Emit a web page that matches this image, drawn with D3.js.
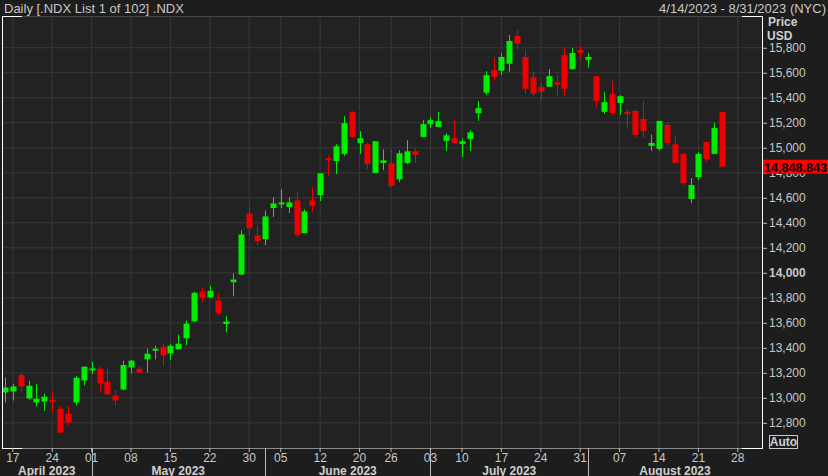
<!DOCTYPE html>
<html>
<head>
<meta charset="utf-8">
<script src="https://cdn.jsdelivr.net/npm/d3@7"></script>
<style>
  body { margin:0; background:#1d1d1d; }
  svg text { font-family:"Liberation Sans Narrow","Liberation Sans",Arial,sans-serif; }
</style>
</head>
<body>
<script>
// trading days shown (Apr 14 .. Aug 31 2023), data up to Aug 24
const holidays = ["2023-05-29","2023-06-19","2023-07-04"];
const tickDays = ["2023-04-17","2023-04-24","2023-05-01","2023-05-08","2023-05-15","2023-05-22","2023-05-30",
  "2023-06-05","2023-06-12","2023-06-20","2023-06-26","2023-07-03","2023-07-10","2023-07-17","2023-07-24",
  "2023-07-31","2023-08-07","2023-08-14","2023-08-21","2023-08-28"];
const months = ["April 2023","May 2023","June 2023","July 2023","August 2023"];
const yTicks = [12800,13000,13200,13400,13600,13800,14000,14200,14400,14600,14800,15000,15200,15400,15600,15800];

// [open, high, low, close]
const opens  = [13043,13051,13182,12995,12963,12971,12985,12912,12872,12963,13139,13231,13233,13129,13017,13067,13243,13233,13308,13380,13409,13356,13388,13476,13612,13850,13804,13778,13591,13925,13986,14475,14299,14269,14518,14547,14526,14579,14317,14579,14622,14916,14894,14951,15285,15039,15028,14798,14878,14876,14748,14878,14972,15087,15189,15167,15055,15076,15031,15071,15277,15440,15621,15616,15672,15894,15726,15565,15485,15488,15525,15742,15629,15782,15704,15573,15287,15429,15359,15287,15295,15231,15015,14991,15183,15028,14951,14590,14766,15047,14951,15287];
const highs  = [13163,13113,13199,13137,13113,13033,13051,12936,12936,13177,13249,13289,13249,13233,13065,13297,13305,13257,13393,13417,13433,13433,13505,13618,13848,13882,13896,13834,13658,13994,14339,14529,14379,14499,14604,14668,14604,14652,14507,14684,14796,14940,15028,15253,15293,15133,15044,15052,14988,14988,14980,15060,14996,15221,15245,15285,15116,15221,15076,15141,15373,15613,15726,15758,15902,15942,15782,15613,15517,15629,15581,15806,15798,15814,15758,15573,15445,15536,15421,15309,15303,15375,15106,15215,15199,15092,14959,14758,14964,15047,15199,15287];
const lows   = [12963,12979,13043,12985,12931,12896,12883,12722,12779,12939,13099,13190,13043,13027,12939,13059,13195,13201,13203,13308,13259,13300,13388,13420,13604,13764,13796,13660,13524,13812,13981,14299,14221,14221,14446,14518,14478,14285,14317,14486,14574,14774,14790,14935,15079,14951,14830,14798,14822,14686,14726,14870,14878,15087,15157,15167,14975,15039,14927,14975,15215,15423,15536,15584,15608,15784,15431,15415,15375,15488,15415,15415,15624,15704,15640,15327,15271,15263,15263,15151,15079,15079,14975,14975,15015,14878,14702,14558,14742,14886,14951,14849];
const closes = [13083,13091,13091,13097,12993,13009,12971,12722,12803,13161,13249,13235,13115,13027,12979,13263,13297,13201,13353,13393,13340,13417,13433,13594,13840,13804,13856,13676,13610,13946,14307,14357,14253,14451,14555,14563,14563,14301,14491,14534,14796,14902,15012,15197,15087,15076,14870,15052,14900,14694,14956,14972,14943,15189,15221,15213,15100,15039,15052,15124,15317,15581,15568,15726,15854,15830,15472,15431,15448,15573,15504,15472,15758,15760,15726,15375,15365,15279,15413,15271,15103,15135,15039,15215,15039,14878,14718,14702,14951,14910,15159,14848.843];
const lastPrice = "14,848.843";

const W = 828, H = 476;
const plotL = 2, plotR = 762, plotT = 16, plotB = 448;

const fmt = d3.timeFormat("%Y-%m-%d");
const days = d3.timeDay.range(new Date(2023,3,14), new Date(2023,8,1))
  .filter(d => d.getDay() !== 0 && d.getDay() !== 6 && !holidays.includes(fmt(d)))
  .map(fmt);
const candles = opens.map((o,i) => ({date:days[i], o, h:highs[i], l:lows[i], c:closes[i]}));

const x = d3.scaleBand().domain(days).range([1, 1 + days.length*7.88]);
const cx = d => x(d) + x.bandwidth()/2;
const y = d3.scaleLinear().domain([12599, 16054]).range([plotB, plotT]);

const svg = d3.select("body").append("svg").attr("width", W).attr("height", H);

svg.append("rect").attr("x",plotL).attr("y",plotT).attr("width",plotR-plotL).attr("height",plotB-plotT).attr("fill","#222222");

// grid
svg.append("g").selectAll("line").data(yTicks).enter().append("line")
  .attr("x1",plotL).attr("x2",plotR).attr("y1",d=>y(d)).attr("y2",d=>y(d))
  .attr("stroke","#393939").attr("stroke-width",1);
svg.append("g").selectAll("line").data(tickDays).enter().append("line")
  .attr("x1",d=>cx(d)).attr("x2",d=>cx(d)).attr("y1",plotT).attr("y2",plotB)
  .attr("stroke","#393939").attr("stroke-width",1);

// candles
const g = svg.append("g");
g.selectAll("line").data(candles).enter().append("line")
  .attr("x1",d=>Math.round(cx(d.date))+0.5).attr("x2",d=>Math.round(cx(d.date))+0.5)
  .attr("y1",d=>y(d.h)).attr("y2",d=>y(d.l))
  .attr("stroke",d=>d.c>=d.o?"#00ee00":"#ee0000").attr("stroke-width",1);
g.selectAll("rect").data(candles).enter().append("rect")
  .attr("x",d=>Math.round(cx(d.date))-2.5).attr("width",6)
  .attr("y",d=>y(Math.max(d.o,d.c)))
  .attr("height",d=>Math.max(2, Math.abs(y(d.o)-y(d.c))))
  .attr("fill",d=>d.c>=d.o?"#00ee00":"#ee0000");

// frame
svg.append("line").attr("x1",plotL).attr("x2",plotR).attr("y1",plotB+0.5).attr("y2",plotB+0.5).attr("stroke","#8a8a8a");
svg.append("line").attr("x1",plotL).attr("x2",plotR).attr("y1",plotT+0.5).attr("y2",plotT+0.5).attr("stroke","#444");
[[plotL,22],[742,plotR]].forEach(([a,b]) => {
  [plotT+0.5, plotB+0.5].forEach(yy => svg.append("line").attr("x1",a).attr("x2",b).attr("y1",yy).attr("y2",yy).attr("stroke","#fff"));
});
[plotL+0.5, plotR+0.5].forEach(xx => svg.append("line").attr("x1",xx).attr("x2",xx).attr("y1",plotT).attr("y2",plotB+1).attr("stroke","#fff"));

// right axis
const yAxis = d3.axisRight(y).tickValues(yTicks).tickSize(4).tickFormat(d3.format(","));
const ya = svg.append("g").attr("transform",`translate(${plotR+1},0)`).call(yAxis);
ya.select(".domain").remove();
ya.selectAll("line").attr("stroke","#bbb");
ya.selectAll("text").attr("fill","#c8c8c8").attr("font-size",12).attr("x",6)
  .style("font-family","Liberation Sans, Arial, sans-serif")
  .attr("font-weight",d=>d===14000?"bold":"normal");

// bottom axis
const xa = svg.append("g").attr("transform",`translate(0,${plotB})`)
  .call(d3.axisBottom(x).tickValues(tickDays).tickSize(4).tickFormat(d => d.slice(8)));
xa.select(".domain").remove();
xa.selectAll("line").attr("stroke","#bbb");
xa.selectAll("text").attr("fill","#c8c8c8").attr("font-size",12).attr("y",5).attr("dy","0.71em");

// month separators & labels
const monthStarts = [0,1,2,3,4].map(m => days.find(d => +d.slice(5,7) === m+4));
monthStarts.slice(1).forEach(d => {
  svg.append("line").attr("x1",Math.round(cx(d))+0.5).attr("x2",Math.round(cx(d))+0.5)
    .attr("y1",plotB).attr("y2",H).attr("stroke","#bbb");
});
months.forEach((m,i) => {
  const a = i===0 ? plotL : cx(monthStarts[i]);
  const b = i===4 ? plotR : cx(monthStarts[i+1]);
  svg.append("text").attr("x",(a+b)/2).attr("y",475).attr("text-anchor","middle")
    .attr("fill","#d0d0d0").attr("font-size",12).attr("font-weight","bold").text(m);
});

// header
svg.append("text").attr("x",4).attr("y",13).attr("fill","#c8c8c8").attr("font-size",13).text("Daily [.NDX List 1 of 102] .NDX");
svg.append("text").attr("x",826).attr("y",13).attr("text-anchor","end").attr("fill","#c8c8c8").attr("font-size",13).text("4/14/2023 - 8/31/2023 (NYC)");
svg.append("text").attr("x",768).attr("y",26).attr("fill","#d0d0d0").attr("font-size",12).attr("font-weight","bold").text("Price");
svg.append("text").attr("x",767).attr("y",40).attr("fill","#d0d0d0").attr("font-size",12).attr("font-weight","bold").text("USD");

// last price tag
const ly = y(closes[closes.length-1]);
svg.append("rect").attr("x",763).attr("y",ly-7).attr("width",65).attr("height",14).attr("fill","#ff0000");
svg.append("text").attr("x",764).attr("y",ly+5).attr("fill","#000").attr("font-size",12).attr("font-weight","bold")
  .attr("textLength",63).attr("lengthAdjust","spacingAndGlyphs")
  .style("font-family","Liberation Sans, Arial, sans-serif").text(lastPrice);

// Auto box
svg.append("rect").attr("x",769.5).attr("y",435.5).attr("width",28).attr("height",13).attr("fill","none").attr("stroke","#ccc");
svg.append("text").attr("x",783.5).attr("y",446).attr("text-anchor","middle").attr("fill","#d0d0d0").attr("font-size",12).attr("font-weight","bold").text("Auto");
</script>
</body>
</html>
